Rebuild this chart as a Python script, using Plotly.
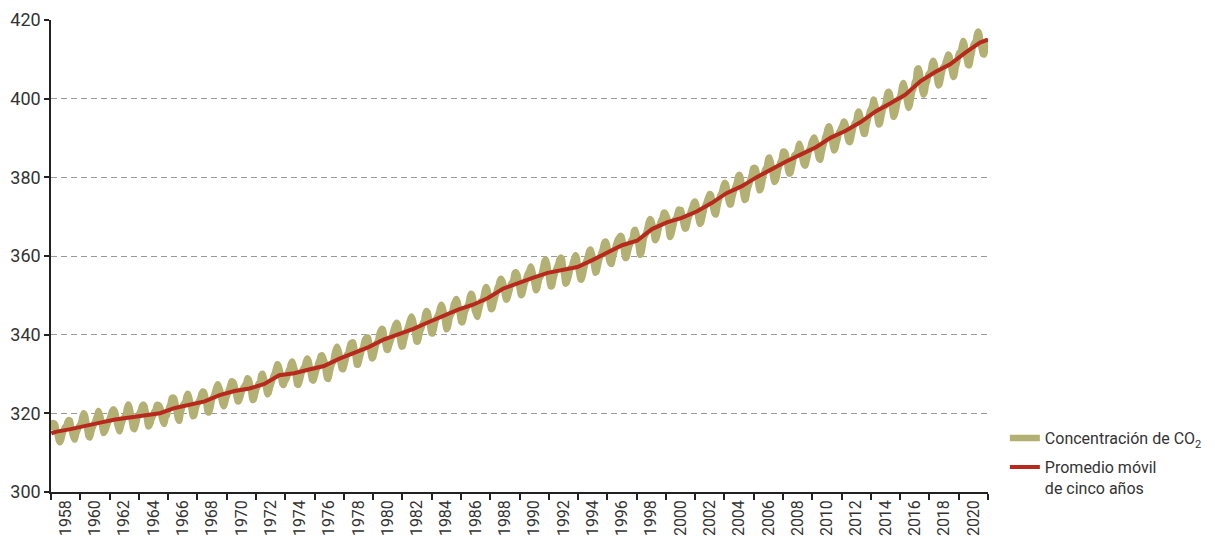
import plotly.graph_objects as go

# ---------------- DATA ----------------
# Monthly CO2 concentration (ppm), starting March 1958
co2_1958_1959 = [
    315.70, 317.45, 317.51, 317.24, 315.86, 314.93, 313.20, 312.66, 313.33, 314.67,
    315.58, 316.48, 316.65, 317.72, 318.29, 318.15, 316.54, 314.80, 313.84, 313.33, 314.81, 315.58,
]
co2_1960s = [
    316.43, 316.98, 317.58, 319.03, 320.04, 319.59, 318.18, 315.90, 314.17, 313.83, 315.00, 316.19,
    316.89, 317.70, 318.54, 319.48, 320.58, 319.77, 318.57, 316.79, 314.99, 315.31, 316.10, 317.01,
    317.94, 318.55, 319.68, 320.57, 321.02, 320.62, 319.61, 317.40, 316.25, 315.42, 316.69, 317.70,
    318.74, 319.07, 319.86, 321.38, 322.25, 321.48, 319.74, 317.77, 316.21, 315.99, 317.07, 318.35,
    319.57, 320.01, 320.74, 321.84, 322.26, 321.89, 320.44, 318.69, 316.70, 316.87, 317.68, 318.71,
    319.44, 320.44, 320.89, 322.14, 322.17, 321.87, 321.21, 318.87, 317.81, 317.30, 318.87, 319.42,
    320.62, 321.59, 322.39, 323.87, 324.01, 323.75, 322.39, 320.37, 318.64, 318.10, 319.79, 321.08,
    322.07, 322.50, 323.04, 324.42, 325.00, 324.09, 322.54, 320.92, 319.25, 319.39, 320.73, 321.96,
    322.57, 323.15, 323.89, 325.02, 325.57, 325.36, 324.14, 322.11, 320.33, 320.25, 321.32, 322.89,
    324.00, 324.42, 325.64, 326.66, 327.38, 326.71, 325.88, 323.66, 322.38, 321.78, 322.85, 324.12,
]
co2_1970s = [
    325.06, 325.98, 326.93, 328.13, 328.08, 327.67, 326.34, 324.69, 323.10, 323.06, 324.01, 325.13,
    326.17, 326.68, 327.17, 327.79, 328.93, 328.57, 327.36, 325.43, 323.36, 323.56, 324.80, 326.01,
    326.77, 327.63, 327.75, 329.72, 330.07, 329.09, 328.04, 326.32, 324.84, 325.20, 326.50, 327.55,
    328.55, 329.56, 330.30, 331.50, 332.48, 332.07, 330.87, 329.31, 327.51, 327.18, 328.16, 328.64,
    329.35, 330.71, 331.48, 332.65, 333.19, 332.20, 331.07, 329.15, 327.33, 327.28, 328.31, 329.58,
    330.73, 331.46, 331.90, 333.17, 333.94, 333.45, 331.97, 329.95, 328.50, 328.34, 329.37, 330.58,
    331.59, 332.75, 333.52, 334.64, 334.77, 334.00, 333.06, 330.68, 328.95, 328.75, 330.15, 331.62,
    332.66, 333.13, 334.95, 336.13, 336.93, 336.17, 334.88, 332.56, 331.29, 331.27, 332.41, 333.60,
    334.95, 335.25, 336.66, 337.69, 338.03, 338.01, 336.41, 334.41, 332.37, 332.41, 333.75, 334.90,
    336.14, 336.69, 338.27, 338.95, 339.21, 339.26, 337.54, 335.75, 333.98, 334.19, 335.31, 336.81,
]
co2_1980s = [
    337.90, 338.34, 340.01, 340.93, 341.48, 341.33, 339.40, 337.70, 336.19, 336.15, 337.27, 338.32,
    339.29, 340.55, 341.61, 342.53, 343.03, 342.54, 340.78, 338.44, 336.95, 337.08, 338.58, 339.88,
    340.96, 341.73, 342.81, 343.97, 344.63, 343.79, 342.32, 340.09, 338.28, 338.29, 339.60, 340.90,
    341.68, 342.90, 343.33, 345.25, 346.03, 345.63, 344.19, 342.27, 340.35, 340.38, 341.59, 343.05,
    344.10, 344.79, 345.52, 346.84, 347.63, 346.97, 345.53, 343.55, 341.40, 341.67, 343.10, 344.70,
    345.21, 346.16, 347.74, 348.34, 349.06, 348.38, 346.72, 345.02, 343.27, 343.13, 344.49, 345.88,
    346.56, 347.28, 348.01, 349.77, 350.38, 349.93, 348.16, 346.08, 345.22, 344.51, 345.93, 347.22,
    348.52, 348.73, 349.73, 351.31, 352.09, 351.53, 350.11, 348.08, 346.52, 346.59, 347.96, 349.16,
    350.39, 351.64, 352.40, 353.69, 354.21, 353.72, 352.69, 350.40, 348.92, 349.13, 350.20, 351.41,
    352.91, 353.27, 353.96, 355.64, 355.86, 355.37, 353.99, 351.81, 350.05, 350.25, 351.49, 352.85,
]
co2_1990s = [
    353.80, 355.04, 355.73, 356.32, 357.32, 356.34, 354.84, 353.01, 351.31, 351.62, 353.07, 354.33,
    354.84, 355.73, 357.23, 358.66, 359.13, 358.13, 356.19, 353.85, 352.25, 352.35, 353.81, 355.12,
    356.25, 357.11, 357.86, 359.09, 359.59, 359.33, 357.01, 354.94, 352.96, 353.32, 354.32, 355.57,
    357.00, 357.31, 358.47, 359.27, 360.19, 359.52, 357.33, 355.64, 354.03, 354.12, 355.41, 356.91,
    358.24, 358.92, 359.99, 361.23, 361.65, 360.81, 359.38, 357.46, 355.73, 356.07, 357.53, 358.98,
    359.92, 360.86, 361.83, 363.30, 363.69, 363.19, 361.64, 359.12, 358.17, 357.99, 359.45, 360.68,
    362.07, 363.24, 364.17, 364.57, 365.13, 364.92, 363.55, 361.38, 359.54, 359.58, 360.89, 362.24,
    363.09, 364.03, 364.51, 366.35, 366.64, 365.59, 364.31, 362.25, 360.29, 360.82, 362.49, 364.38,
    365.26, 365.98, 367.24, 368.66, 369.42, 368.99, 367.82, 365.95, 364.02, 364.40, 365.52, 367.13,
    368.18, 369.07, 369.68, 370.99, 370.96, 370.30, 369.45, 366.90, 364.81, 365.37, 366.72, 368.10,
]
co2_2000s = [
    369.29, 369.54, 370.60, 371.82, 371.58, 371.70, 369.86, 368.13, 367.00, 367.03, 368.37, 369.67,
    370.59, 371.51, 372.43, 373.37, 373.85, 373.21, 371.51, 369.61, 368.18, 368.45, 369.76, 371.24,
    372.53, 373.20, 374.12, 375.02, 375.76, 375.52, 374.01, 371.85, 370.75, 370.55, 372.25, 373.79,
    374.88, 375.64, 376.45, 377.73, 378.60, 378.28, 376.70, 374.38, 373.17, 373.14, 374.66, 375.99,
    377.00, 377.87, 378.88, 380.35, 380.62, 379.69, 377.47, 376.01, 374.25, 374.46, 376.16, 377.51,
    378.46, 379.73, 380.77, 382.29, 382.45, 382.21, 380.74, 378.74, 376.70, 377.00, 378.35, 380.11,
    381.38, 382.19, 382.67, 384.61, 385.03, 384.05, 382.46, 380.41, 378.85, 379.13, 380.15, 381.82,
    382.89, 383.90, 384.58, 386.50, 386.56, 386.10, 384.50, 381.99, 380.96, 381.12, 382.45, 383.95,
    385.52, 385.82, 386.03, 387.21, 388.54, 387.76, 386.36, 384.09, 383.18, 382.99, 384.19, 385.56,
    386.94, 387.48, 388.82, 389.55, 390.14, 389.48, 388.03, 386.11, 384.74, 384.43, 386.02, 387.42,
]
co2_2010s = [
    388.71, 390.20, 391.17, 392.46, 393.00, 392.15, 390.20, 388.35, 386.85, 387.24, 388.67, 389.79,
    391.33, 391.86, 392.60, 393.25, 394.19, 393.74, 392.51, 390.13, 389.08, 389.00, 390.28, 391.86,
    393.12, 393.86, 394.40, 396.18, 396.74, 395.71, 394.36, 392.39, 391.11, 391.05, 392.98, 394.34,
    395.55, 396.80, 397.43, 398.41, 399.78, 398.61, 397.32, 395.20, 393.45, 393.70, 395.16, 396.84,
    397.85, 398.01, 399.77, 401.38, 401.78, 401.25, 399.10, 397.03, 395.38, 396.03, 397.28, 398.91,
    399.98, 400.28, 401.54, 403.28, 403.96, 402.80, 401.31, 398.93, 397.63, 398.29, 400.16, 401.85,
    402.52, 404.04, 404.83, 407.42, 407.70, 406.81, 404.39, 402.25, 401.03, 401.57, 403.53, 404.42,
    406.13, 406.42, 407.18, 409.00, 409.65, 408.84, 407.07, 405.07, 403.38, 403.64, 405.14, 406.81,
    407.96, 408.32, 409.41, 410.24, 411.24, 410.79, 408.71, 406.99, 405.51, 406.00, 408.02, 409.07,
    410.83, 411.75, 411.97, 413.32, 414.66, 413.92, 411.77, 409.95, 408.54, 408.53, 410.27, 411.76,
]
co2_2020_2021 = [
    413.40, 414.11, 414.51, 416.21, 417.07, 416.39, 414.38, 412.55, 411.29, 411.28, 412.89, 413.89,
    415.15,
]

# Smoothed trend ("promedio móvil"), one value per year (mid-year), plus start/end points
trend_years = list(range(1958, 2021))
trend_values = [
    315.3, 315.98, 316.91, 317.64, 318.45, 318.99, 319.62, 320.04, 321.37, 322.18, 323.05,
    324.62, 325.68, 326.32, 327.46, 329.68, 330.19, 331.13, 332.03, 333.84, 335.41,
    336.84, 338.76, 340.12, 341.48, 343.15, 344.87, 346.35, 347.61, 349.31, 351.69,
    353.20, 354.45, 355.70, 356.54, 357.21, 358.96, 360.97, 362.74, 363.88, 366.84,
    368.54, 369.71, 371.32, 373.45, 375.98, 377.70, 379.98, 382.09, 384.02, 385.83,
    387.64, 390.10, 391.85, 394.06, 396.74, 398.81, 401.01, 404.41, 406.76, 408.72,
    411.66, 414.24,
]
trend_start = (1958.17, 314.9)
trend_end = (2021.0, 415.0)

year_labels = [str(y) for y in range(1958, 2021, 2)]
y_ticks = [300, 320, 340, 360, 380, 400, 420]

# ---------------- BUILD ----------------
co2 = co2_1958_1959 + co2_1960s + co2_1970s + co2_1980s + co2_1990s + co2_2000s + co2_2010s + co2_2020_2021
co2_x = [1958 + (2 + i) / 12 for i in range(len(co2))]

trend_x = [trend_start[0]] + [y + 0.46 for y in trend_years] + [trend_end[0]]
trend_y = [trend_start[1]] + trend_values + [trend_end[1]]

OLIVE = "#b3b073"
RED = "#b8281d"
FONT = "Roboto, Liberation Sans, sans-serif"

fig = go.Figure()
fig.add_trace(go.Scatter(
    x=co2_x, y=co2, mode="lines",
    line=dict(color=OLIVE, width=6.5, shape="spline", smoothing=0.6),
    name="Concentración de CO<sub>2</sub>", legendgroup="g1",
))
fig.add_trace(go.Scatter(
    x=trend_x, y=trend_y, mode="lines",
    line=dict(color=RED, width=4),
    name="Promedio móvil<br>de cinco años", legendgroup="g2",
))
# invisible helper trace carrying the year-label categories
fig.add_trace(go.Scatter(
    x=year_labels, y=[None] * len(year_labels), xaxis="x2", yaxis="y",
    mode="lines", showlegend=False, hoverinfo="skip",
))

fig.update_layout(
    width=1215, height=536,
    margin=dict(l=51, r=227, t=20, b=44, autoexpand=False),
    plot_bgcolor="white", paper_bgcolor="white",
    font=dict(family=FONT, size=17, color="#333333"),
    xaxis=dict(
        range=[1958.15, 2021.0], visible=False, showgrid=False, zeroline=False,
        automargin=False,
    ),
    xaxis2=dict(
        type="category", overlaying="x", anchor="y", side="bottom",
        categoryorder="array", categoryarray=year_labels,
        range=[-0.5, len(year_labels) - 0.5],
        tickson="boundaries", ticks="outside", ticklen=6, tickwidth=1.5, tickcolor="#222",
        showline=True, linecolor="#222", linewidth=1.5,
        showgrid=False, zeroline=False, tickangle=-90, automargin=False,
        tickfont=dict(family=FONT, size=16, color="#333"),
    ),
    yaxis=dict(
        range=[300, 420], tickvals=y_ticks,
        showgrid=True, gridcolor="#9a9a9a", gridwidth=1, griddash="6px,4px",
        showline=True, linecolor="#222", linewidth=1.5,
        ticks="outside", ticklen=5, tickwidth=1.5, tickcolor="#222",
        zeroline=False, automargin=False,
        tickfont=dict(family=FONT, size=18, color="#333"),
    ),
    legend=dict(
        x=1.018, xanchor="left", y=0.15, yanchor="top",
        font=dict(family=FONT, size=16, color="#333"),
        valign="top", bgcolor="rgba(0,0,0,0)",
        traceorder="grouped", tracegroupgap=5,
    ),
    showlegend=True,
)

fig.write_html(
    "out.html",
    config={"displayModeBar": False},
    post_script="document.body.style.margin='0px';document.body.style.overflow='hidden';",
)
